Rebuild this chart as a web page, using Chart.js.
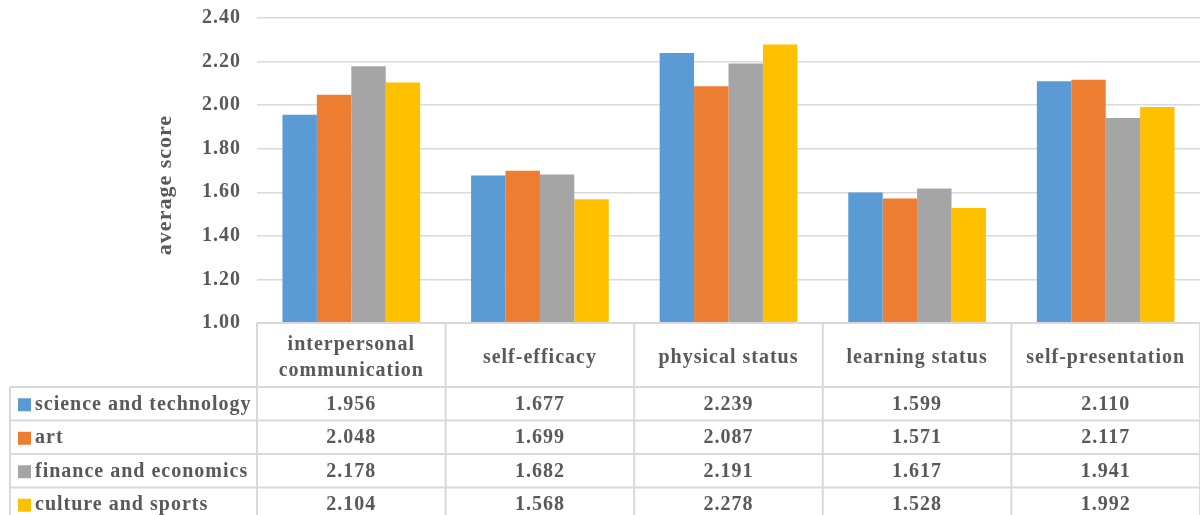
<!DOCTYPE html>
<html>
<head>
<meta charset="utf-8">
<script src="https://cdn.jsdelivr.net/npm/chart.js@4.4.0/dist/chart.umd.min.js"></script>
<style>
  body { margin: 0; background: #fff; }
  #wrap { width: 1200px; height: 515px; position: relative; }
</style>
</head>
<body>
<div id="wrap"><canvas id="chart"></canvas></div>
<script>
const categories = ['interpersonal communication', 'self-efficacy', 'physical status', 'learning status', 'self-presentation'];
const seriesNames = ['science and technology', 'art', 'finance and economics', 'culture and sports'];
const scienceTech = [1.956, 1.677, 2.239, 1.599, 2.110];
const art = [2.048, 1.699, 2.087, 1.571, 2.117];
const financeEcon = [2.178, 1.682, 2.191, 1.617, 1.941];
const cultureSports = [2.104, 1.568, 2.278, 1.528, 1.992];
const colors = ['#5b9bd5', '#ed7d31', '#a5a5a5', '#ffc000'];
const yTitle = 'average score';

const textColor = '#595959';
const lineColor = '#d9d9d9';
const serif = '"Liberation Serif", "Times New Roman", serif';

const allSeries = [scienceTech, art, financeEcon, cultureSports];

function wrapWords(ctx, text, maxW) {
    const words = text.split(' ');
    const lines = [];
    let cur = '';
    words.forEach(w => {
        const test = cur ? cur + ' ' + w : w;
        if (cur && ctx.measureText(test).width > maxW) {
            lines.push(cur);
            cur = w;
        } else {
            cur = test;
        }
    });
    if (cur) lines.push(cur);
    return lines;
}

const spacingPlugin = {
    id: 'spacing',
    beforeDraw(chart) {
        chart.ctx.letterSpacing = '1px';
    }
};

const tablePlugin = {
    id: 'dataTable',
    afterDraw(chart) {
        const ctx = chart.ctx;
        const x = chart.scales.x;
        const area = chart.chartArea;
        const colW = (x.right - x.left) / categories.length;
        const headTop = area.bottom;
        const headH = 64;
        const rowH = 33.5;
        const legendLeft = 10;
        ctx.save();
        ctx.letterSpacing = '1px';
        ctx.strokeStyle = lineColor;
        ctx.lineWidth = 2;
        // horizontal lines
        ctx.beginPath();
        ctx.moveTo(x.left, headTop);
        ctx.lineTo(x.right + 2, headTop);
        for (let r = 0; r <= seriesNames.length; r++) {
            const y = headTop + headH + r * rowH;
            ctx.moveTo(legendLeft, y);
            ctx.lineTo(x.right + 2, y);
        }
        // vertical lines
        for (let c = 0; c <= categories.length; c++) {
            const cx = x.left + c * colW;
            ctx.moveTo(cx, headTop);
            ctx.lineTo(cx, chart.height);
        }
        ctx.moveTo(legendLeft, headTop + headH);
        ctx.lineTo(legendLeft, chart.height);
        ctx.stroke();

        ctx.fillStyle = textColor;
        ctx.font = 'bold 20px ' + serif;
        ctx.textAlign = 'center';
        ctx.textBaseline = 'middle';
        // header
        categories.forEach((cat, i) => {
            const cx = x.getPixelForValue(i);
            const lines = wrapWords(ctx, cat, colW - 16);
            const lh = 26;
            const y0 = headTop + headH / 2 + 3 - (lines.length - 1) * lh / 2;
            lines.forEach((ln, k) => ctx.fillText(ln, cx, y0 + k * lh));
        });
        // rows
        allSeries.forEach((vals, r) => {
            const cy = headTop + headH + r * rowH + rowH / 2 + 1;
            ctx.fillStyle = colors[r];
            ctx.fillRect(18, cy - 6.5, 13, 13);
            ctx.fillStyle = textColor;
            ctx.textAlign = 'left';
            ctx.fillText(seriesNames[r], 35, cy);
            ctx.textAlign = 'center';
            vals.forEach((v, i) => {
                ctx.fillText(v.toFixed(3), x.getPixelForValue(i), cy);
            });
        });
        // y axis title
        ctx.translate(165, 185);
        ctx.rotate(-Math.PI / 2);
        ctx.font = 'bold 22px ' + serif;
        ctx.fillText(yTitle, 0, 0);
        ctx.restore();
    }
};

new Chart(document.getElementById('chart'), {
    type: 'bar',
    data: {
        labels: categories,
        datasets: seriesNames.map((name, i) => ({
            label: name,
            data: allSeries[i],
            backgroundColor: colors[i],
            borderWidth: 0,
            barPercentage: 1,
            categoryPercentage: 0.73
        }))
    },
    options: {
        responsive: true,
        maintainAspectRatio: false,
        animation: false,
        layout: { padding: { left: 0, right: -1, top: 18, bottom: 192 } },
        plugins: { legend: { display: false }, tooltip: { enabled: false } },
        scales: {
            x: { display: false },
            y: {
                min: 1,
                max: 2.4,
                afterFit(scale) {
                    scale.width = 257;
                    scale.paddingTop = 0;
                    scale.paddingBottom = 0;
                },
                border: { display: false },
                grid: { color: lineColor, lineWidth: 1.5, drawTicks: false },
                ticks: {
                    stepSize: 0.2,
                    padding: 16,
                    color: textColor,
                    font: { family: serif, size: 20, weight: 'bold' },
                    callback: v => v.toFixed(2)
                }
            }
        }
    },
    plugins: [spacingPlugin, tablePlugin]
});
</script>
</body>
</html>
